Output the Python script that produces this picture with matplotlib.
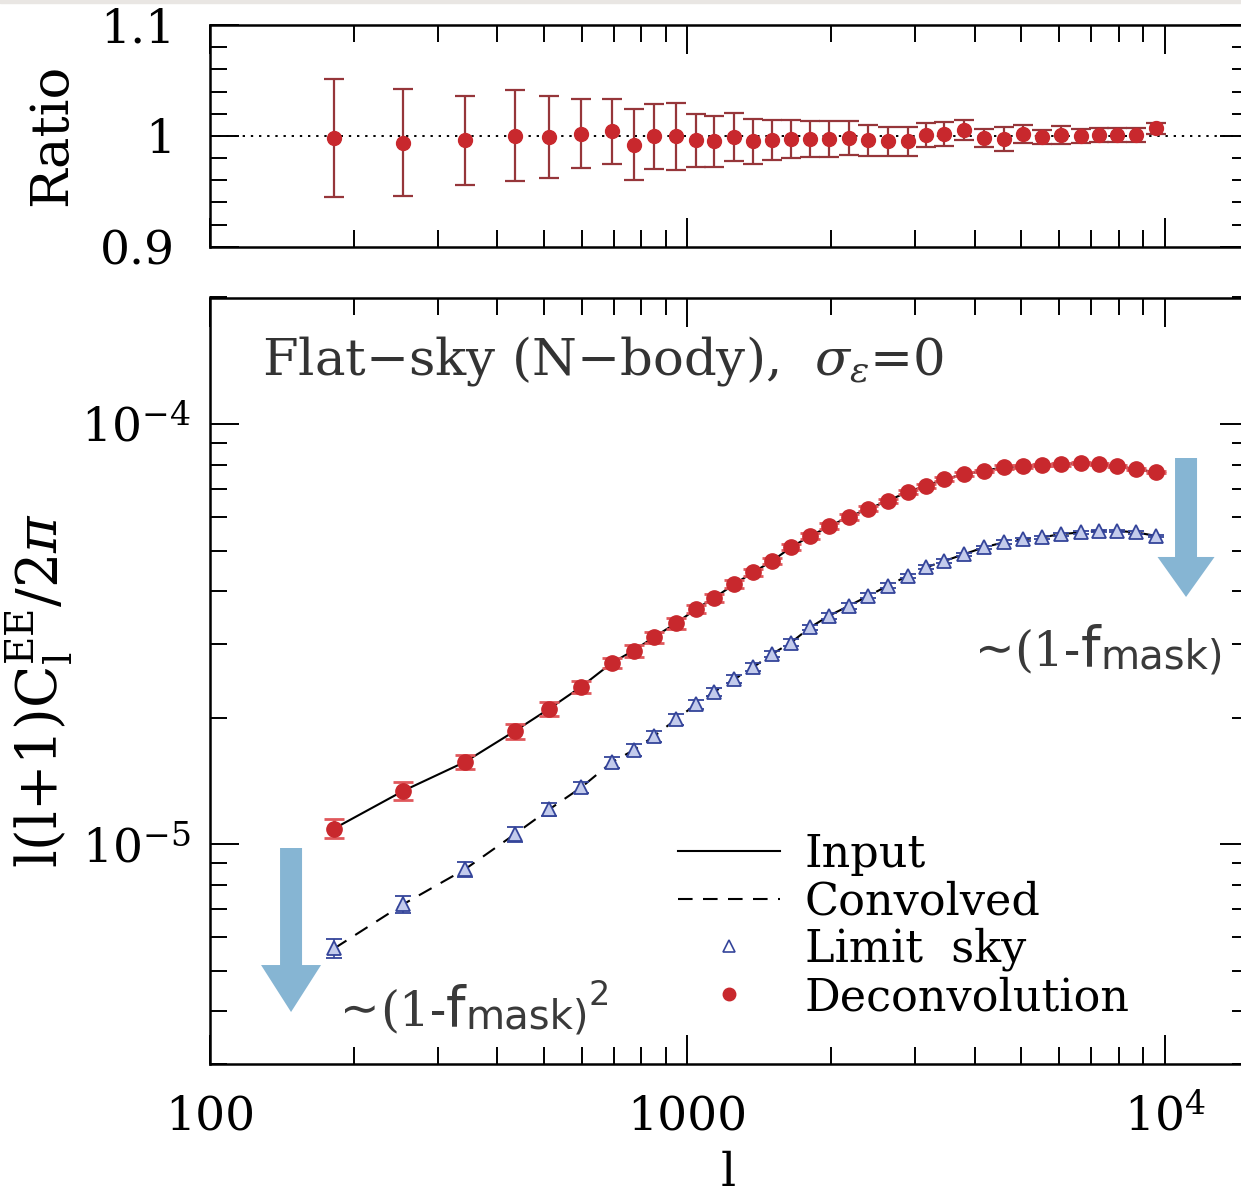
import matplotlib
matplotlib.use('Agg')
import matplotlib.pyplot as plt
from matplotlib.lines import Line2D
from matplotlib.patches import FancyArrow, Rectangle
from matplotlib.ticker import FixedLocator, MultipleLocator, NullFormatter, FuncFormatter, LogLocator

# ---------------- data ----------------
ell = [182, 254, 342, 435, 513, 599, 694, 771, 851, 947, 1043, 1139, 1254, 1374,
       1504, 1648, 1806, 1982, 2175, 2394, 2624, 2890, 3162, 3450, 3797, 4181,
       4605, 5046, 5521, 6050, 6662, 7277, 7948, 8709, 9561]

ratio = [0.998, 0.994, 0.996, 1.000, 0.999, 1.002, 1.004, 0.992, 0.9995, 0.9995,
         0.996, 0.995, 0.999, 0.995, 0.996, 0.997, 0.997, 0.997, 0.998, 0.996,
         0.995, 0.995, 1.001, 1.0016, 1.005, 0.998, 0.997, 1.0016, 0.999, 1.0007,
         1.000, 1.0007, 1.0007, 1.0007, 1.0068]

ratio_err = [0.053, 0.048, 0.040, 0.041, 0.037, 0.031, 0.029, 0.032, 0.029, 0.030,
             0.024, 0.023, 0.022, 0.020, 0.018, 0.017, 0.016, 0.016, 0.015, 0.014,
             0.013, 0.013, 0.011, 0.011, 0.009, 0.008, 0.011, 0.008, 0.006, 0.008,
             0.006, 0.006, 0.006, 0.006, 0.005]

deconv = [1.09e-5, 1.34e-5, 1.57e-5, 1.86e-5, 2.10e-5, 2.37e-5, 2.70e-5, 2.89e-5,
          3.11e-5, 3.36e-5, 3.63e-5, 3.86e-5, 4.16e-5, 4.44e-5, 4.72e-5, 5.09e-5,
          5.41e-5, 5.71e-5, 6.01e-5, 6.28e-5, 6.56e-5, 6.89e-5, 7.12e-5, 7.39e-5,
          7.60e-5, 7.73e-5, 7.90e-5, 7.94e-5, 7.98e-5, 8.03e-5, 8.07e-5, 8.03e-5,
          7.94e-5, 7.81e-5, 7.68e-5]

limit_sky = [5.65e-6, 7.20e-6, 8.72e-6, 1.057e-5, 1.21e-5, 1.365e-5, 1.567e-5,
             1.674e-5, 1.807e-5, 1.984e-5, 2.154e-5, 2.307e-5, 2.47e-5, 2.64e-5,
             2.835e-5, 3.02e-5, 3.28e-5, 3.50e-5, 3.69e-5, 3.90e-5, 4.12e-5,
             4.35e-5, 4.56e-5, 4.72e-5, 4.90e-5, 5.09e-5, 5.23e-5, 5.32e-5,
             5.37e-5, 5.47e-5, 5.52e-5, 5.57e-5, 5.57e-5, 5.52e-5, 5.42e-5]

input_cl = list(deconv)        # theory "Input" curve
convolved_cl = list(limit_sky)  # theory "Convolved" curve

deconv_err = [v * e for v, e in zip(deconv, ratio_err)]
limit_err = [v * e for v, e in zip(limit_sky, ratio_err)]

x_ticks = [100, 1000, 10000]
x_ticklabels = ['100', '1000', r'$10^4$']
ratio_ticks = [0.9, 1.0, 1.1]
ratio_ticklabels = ['0.9', '1', '1.1']

legend_labels = ['Input', 'Convolved', 'Limit  sky', 'Deconvolution']

# ---------------- style ----------------
plt.rcParams['font.family'] = ['DejaVu Serif']
plt.rcParams['mathtext.fontset'] = 'dejavuserif'

W, H = 1241, 1199
fig = plt.figure(figsize=(W / 100, H / 100), dpi=100)


def rect(l, t, r, b):
    return [l / W, 1 - b / H, (r - l) / W, (b - t) / H]


ax1 = fig.add_axes(rect(210, 25, 1249, 246.7))
ax2 = fig.add_axes(rect(210, 297.5, 1249, 1064))

RED = '#c8282d'
BLUE = '#34449a'

# ---------------- top panel ----------------
ax1.axhline(1.0, color='k', ls=(0, (1.2, 3)), lw=1.4, zorder=1)
ax1.errorbar(ell, ratio, yerr=ratio_err, fmt='o', color=RED, ms=10,
             ecolor='#96363a', elinewidth=1.6, capsize=7, capthick=1.6, zorder=3)
ax1.set_xscale('log')
ax1.set_xlim(100, 1.5e4)
ax1.set_ylim(0.9, 1.1)
ax1.yaxis.set_major_locator(FixedLocator(ratio_ticks))
ax1.yaxis.set_major_formatter(FuncFormatter(
    lambda v, p: ratio_ticklabels[min(range(3), key=lambda i: abs(ratio_ticks[i] - v))]))
ax1.yaxis.set_minor_locator(MultipleLocator(0.02))
ax1.tick_params(labelbottom=False)

# ---------------- bottom panel ----------------
ax2.plot(ell, input_cl, color='k', lw=1.5, zorder=2)
ax2.plot(ell, convolved_cl, color='k', lw=1.5, ls=(0, (7, 5)), zorder=2)
ax2.errorbar(ell, limit_sky, yerr=limit_err, fmt='^', ms=10, mfc='#c3cbec',
             mec=BLUE, mew=1.3, ecolor=BLUE, elinewidth=1.2, capsize=6,
             capthick=1.2, zorder=3)
ax2.errorbar(ell, deconv, yerr=deconv_err, fmt='o', ms=11, color=RED,
             ecolor='#e0585c', elinewidth=2, capsize=7, capthick=2, zorder=4)
ax2.set_xscale('log')
ax2.set_yscale('log')
ax2.set_xlim(100, 1.5e4)
ax2.set_ylim(3e-6, 2e-4)
ax2.yaxis.set_minor_formatter(NullFormatter())

for ax in (ax1, ax2):
    ax.xaxis.set_major_locator(FixedLocator(x_ticks))
    ax.xaxis.set_minor_locator(LogLocator(base=10, subs=range(2, 10)))
    ax.xaxis.set_minor_formatter(NullFormatter())
    ax.tick_params(which='both', direction='in', top=True, right=True,
                   width=1.4, labelsize=34)
    ax.tick_params(which='major', length=21)
    ax.tick_params(which='minor', length=12)
    for s in ax.spines.values():
        s.set_linewidth(1.8)

ax2.xaxis.set_major_formatter(FuncFormatter(
    lambda v, p: x_ticklabels[x_ticks.index(int(round(v)))] if int(round(v)) in x_ticks else ''))
ax1.tick_params(axis='y', which='major', pad=25)
ax2.tick_params(axis='y', which='major', pad=14)
ax2.tick_params(axis='x', which='major', pad=22)

# panel label
ax2.text(0.05, 0.899, 'Flat\u2212sky (N\u2212body),  $\\sigma_{\\epsilon}$=0',
         transform=ax2.transAxes, fontsize=37, ha='left', va='baseline',
         color='#333333')

# legend
handles = [Line2D([], [], color='k', lw=1.5),
           Line2D([], [], color='k', lw=1.5, ls=(0, (7, 5))),
           Line2D([], [], marker='^', ls='none', mfc='none', mec=BLUE, ms=8, mew=1.2),
           Line2D([], [], marker='o', ls='none', color=RED, ms=9)]
ax2.legend(handles, legend_labels, loc='upper left', bbox_to_anchor=(0.4504, 0.302),
           frameon=False, fontsize=32, handlelength=2.3, handletextpad=0.55,
           labelspacing=0.1, borderpad=0, borderaxespad=0)

# arrows
ARROW = '#86b5d3'
ax2.add_patch(FancyArrow(0.9394, 0.7906, 0, -(0.7906 - 0.6093), width=22 / 1039,
                         head_width=57 / 1039, head_length=40 / 766.5,
                         length_includes_head=True, transform=ax2.transAxes,
                         color=ARROW, clip_on=False, zorder=6, lw=0))
ax2.add_patch(FancyArrow(0.078, 0.2818, 0, -(0.2818 - 0.0678), width=22 / 1039,
                         head_width=60 / 1039, head_length=47 / 766.5,
                         length_includes_head=True, transform=ax2.transAxes,
                         color=ARROW, clip_on=False, zorder=6, lw=0))

# axis labels
fig.text(52 / W, 1 - 135 / H, 'Ratio', rotation=90, ha='center', va='center', fontsize=38)
fig.text(40 / W, 1 - 690 / H, r'l(l+1)C$_{\rm l}^{\rm EE}$/2$\pi$', rotation=90,
         ha='center', va='center', fontsize=40)
fig.text(728 / W, 1 - 1186 / H, 'l', ha='center', va='baseline', fontsize=34)

# annotation texts built piece by piece
renderer = fig.canvas.get_renderer()
TXT = '#3a3a3a'


def chain(x_px, base_px, parts):
    x = x_px
    for s, fam, size, dy in parts:
        t = fig.text(x / W, (H - base_px + dy) / H, s, fontsize=size, family=fam,
                     ha='left', va='baseline', color=TXT)
        bb = t.get_window_extent(renderer)
        x = bb.x1


chain(975, 665, [('\u223c', 'DejaVu Sans', 34, 0),
                 ('(1-', 'DejaVu Serif', 35, 0),
                 ('f', 'DejaVu Sans', 40, 0),
                 ('mask)', 'DejaVu Sans', 29, -4)])
chain(340, 1025, [('\u223c', 'DejaVu Sans', 34, 0),
                  ('(1-', 'DejaVu Serif', 35, 0),
                  ('f', 'DejaVu Sans', 40, 0),
                  ('mask)', 'DejaVu Sans', 29, -4),
                  ('2', 'DejaVu Sans', 24, 20)])

# top strip remnant
fig.patches.append(Rectangle((0, 1 - 3 / H), 1, 3 / H, transform=fig.transFigure,
                             color='#e9e6e3', zorder=0))

fig.savefig('out.png', dpi=100)
